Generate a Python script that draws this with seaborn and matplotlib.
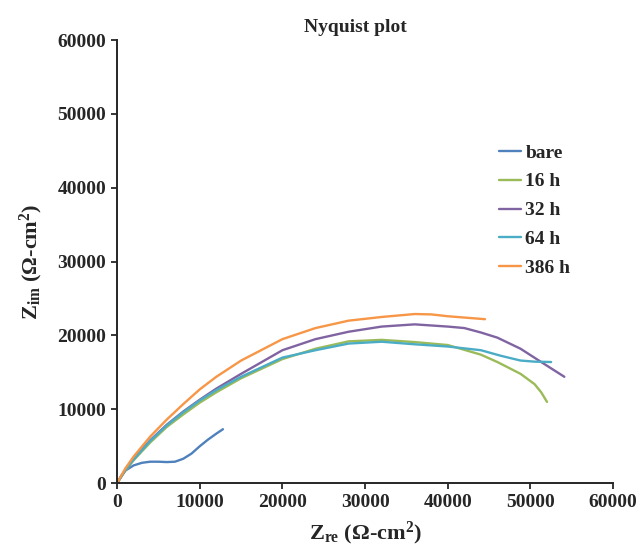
import pandas as pd
import matplotlib
matplotlib.use("Agg")
import matplotlib.pyplot as plt
import seaborn as sns

# Nyquist data (Z_re, Z_im in ohm-cm2)
bare_re = [0, 500, 1000, 2000, 3000, 4000, 5000, 6000, 7000, 8000, 9000, 10000, 11000, 12000, 12800]
bare_im = [0, 1000, 1700, 2400, 2750, 2900, 2900, 2850, 2900, 3300, 4000, 5000, 5900, 6700, 7300]

h16_re = [0, 1000, 2000, 4000, 6000, 8000, 10000, 12000, 15000, 20000, 24000, 28000, 32000, 36000,
          40000, 44000, 46000, 48800, 50500, 51300, 52000]
h16_im = [0, 1700, 3100, 5500, 7600, 9300, 10900, 12300, 14200, 16800, 18200, 19200, 19400, 19100,
          18700, 17400, 16400, 14800, 13400, 12300, 11000]

h32_re = [0, 1000, 2000, 4000, 6000, 8000, 10000, 12000, 15000, 20000, 24000, 28000, 32000, 36000,
          40000, 42000, 44000, 46000, 48800, 51300, 54100]
h32_im = [0, 1800, 3300, 5800, 7900, 9700, 11300, 12800, 14800, 18000, 19500, 20500, 21200, 21500,
          21200, 21000, 20400, 19700, 18200, 16400, 14400]

h64_re = [0, 1000, 2000, 4000, 6000, 8000, 10000, 12000, 15000, 20000, 24000, 28000, 32000, 36000,
          40000, 44000, 46400, 48800, 50500, 52500]
h64_im = [0, 1800, 3200, 5700, 7800, 9600, 11200, 12600, 14400, 17000, 18000, 18900, 19150, 18800,
          18500, 18000, 17250, 16600, 16450, 16400]

h386_re = [0, 1000, 2000, 4000, 6000, 8000, 10000, 12000, 15000, 20000, 24000, 28000, 32000, 36000,
           38000, 40000, 44500]
h386_im = [0, 2000, 3600, 6300, 8600, 10700, 12700, 14400, 16600, 19500, 21000, 22000, 22500, 22900,
           22850, 22600, 22200]

labels = ["bare", "16 h", "32 h", "64 h", "386 h"]
colors = ["#4F81BD", "#9BBB59", "#8064A2", "#4BACC6", "#F79646"]

series = [(bare_re, bare_im), (h16_re, h16_im), (h32_re, h32_im), (h64_re, h64_im), (h386_re, h386_im)]
frames = []
for lab, (xs, ys) in zip(labels, series):
    frames.append(pd.DataFrame({"Zre": xs, "Zim": ys, "sample": lab}))
df = pd.concat(frames, ignore_index=True)

sns.set_style("ticks")
plt.rcParams["font.family"] = ["Liberation Serif", "DejaVu Serif"]
plt.rcParams["font.weight"] = "bold"
plt.rcParams["mathtext.fontset"] = "custom"
plt.rcParams["mathtext.rm"] = "Liberation Serif:bold"
plt.rcParams["mathtext.it"] = "Liberation Serif:bold"
plt.rcParams["mathtext.bf"] = "Liberation Serif:bold"

fig = plt.figure(figsize=(6.4, 5.49), dpi=100)
ax = fig.add_axes([0.183, 0.120, 0.775, 0.807])

sns.lineplot(data=df, x="Zre", y="Zim", hue="sample", hue_order=labels,
             palette=dict(zip(labels, colors)), sort=False, estimator=None,
             linewidth=1.7, ax=ax)

ax.set_xlim(0, 60000)
ax.set_ylim(0, 60000)
ax.set_xticks(range(0, 60001, 10000))
ax.set_yticks(range(0, 60001, 10000))
ax.tick_params(axis="both", direction="out", length=4, width=1.3, labelsize=14, pad=4)
for lbl in ax.get_xticklabels() + ax.get_yticklabels():
    lbl.set_fontweight("bold")
for side in ["left", "bottom"]:
    ax.spines[side].set_linewidth(1.4)
sns.despine(ax=ax)

ax.set_title("Nyquist plot", fontsize=14, fontweight="bold", pad=6, x=0.48)
ax.set_xlabel(r"Z$_{\mathrm{re}}$ ($\Omega$-cm$^{\mathrm{2}}$)", fontsize=16, fontweight="bold", labelpad=6)
ax.set_ylabel(r"Z$_{\mathrm{im}}$ ($\Omega$-cm$^{\mathrm{2}}$)", fontsize=16, fontweight="bold", labelpad=9)

leg = ax.legend(loc="upper left", bbox_to_anchor=(0.735, 0.805), frameon=False,
                fontsize=14, handlelength=1.1, handletextpad=0.25, labelspacing=0.58)
for t in leg.get_texts():
    t.set_fontweight("bold")

fig.savefig("out.png", dpi=100)
